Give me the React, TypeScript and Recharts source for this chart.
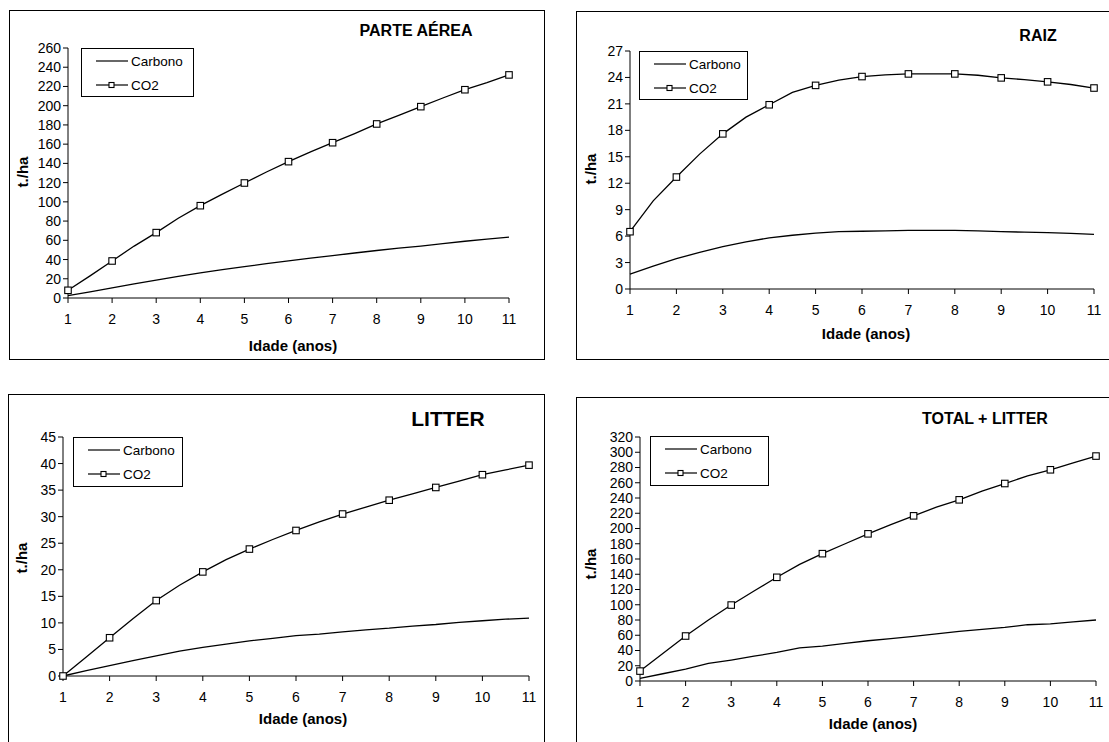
import React from "react";
import { LineChart, Line, XAxis, YAxis } from "recharts";

const ages = [1, 1.5, 2, 2.5, 3, 3.5, 4, 4.5, 5, 5.5, 6, 6.5, 7, 7.5, 8, 8.5, 9, 9.5, 10, 10.5, 11];
const yearTicks = [1, 2, 3, 4, 5, 6, 7, 8, 9, 10, 11];

const aereaCO2 = [8, 23, 38.5, 54, 68, 83, 96, 108, 119.6, 131, 141.8, 152, 161.5, 171, 181, 190, 199, 208, 216.6, 224, 232];
const aereaCarbono = [2.5, 6.3, 10.5, 14.6, 18.5, 22.6, 26.2, 29.5, 32.6, 35.8, 38.7, 41.4, 44, 46.8, 49.4, 51.8, 54, 56.5, 59, 61.2, 63.3];
const aereaTicks = [0, 20, 40, 60, 80, 100, 120, 140, 160, 180, 200, 220, 240, 260];

const raizCO2 = [6.5, 10.0, 12.7, 15.3, 17.6, 19.5, 20.9, 22.3, 23.1, 23.7, 24.1, 24.3, 24.4, 24.4, 24.4, 24.25, 23.95, 23.75, 23.5, 23.2, 22.8];
const raizCarbono = [1.7, 2.6, 3.45, 4.15, 4.8, 5.35, 5.8, 6.1, 6.35, 6.5, 6.55, 6.6, 6.65, 6.65, 6.65, 6.6, 6.5, 6.45, 6.4, 6.3, 6.2];
const raizTicks = [0, 3, 6, 9, 12, 15, 18, 21, 24, 27];

const litterCO2 = [0, 3.6, 7.2, 10.8, 14.2, 17.1, 19.6, 21.9, 23.9, 25.7, 27.4, 29.0, 30.5, 31.8, 33.1, 34.3, 35.5, 36.7, 37.9, 38.8, 39.7];
const litterCarbono = [0, 1.0, 1.95, 2.9, 3.8, 4.7, 5.4, 6.0, 6.6, 7.1, 7.6, 7.9, 8.3, 8.7, 9.0, 9.4, 9.7, 10.1, 10.4, 10.7, 10.9];
const litterTicks = [0, 5, 10, 15, 20, 25, 30, 35, 40, 45];

const totalCO2 = [13, 36, 59, 80, 99.6, 118, 136, 153, 167, 180, 193, 205, 216.6, 228, 237.6, 249, 259, 269, 277, 286, 295];
const totalCarbono = [3.5, 9.5, 15.7, 23, 27.5, 32.5, 37.5, 43.5, 45.8, 49.3, 52.8, 55.6, 58.5, 61.8, 65, 67.7, 70.3, 73.8, 75, 77.5, 80];
const totalTicks = [0, 20, 40, 60, 80, 100, 120, 140, 160, 180, 200, 220, 240, 260, 280, 300, 320];

const FONT = '"Liberation Sans", Arial, sans-serif';
const Y_AXIS_W = 40;
const X_AXIS_H = 34;

const toRows = (co2: number[], carbono: number[]) =>
  ages.map((age, i) => ({ age, co2: co2[i], carbono: carbono[i] }));

const panels = [
  {
    title: "PARTE AÉREA", titleSize: 16, titlePos: [416, 31],
    rows: toRows(aereaCO2, aereaCarbono), ticks: aereaTicks,
    frame: { x: 9, y: 10, w: 536, h: 350 },
    plot: { l: 68, t: 48, r: 509, b: 298 },
    legend: { x: 81, y: 48, w: 113, h: 49 },
    yLabel: [22, 172], xLabel: [293, 345],
  },
  {
    title: "RAIZ", titleSize: 16, titlePos: [1038, 36],
    rows: toRows(raizCO2, raizCarbono), ticks: raizTicks,
    frame: { x: 576, y: 11, w: 560, h: 349 },
    plot: { l: 630, t: 51, r: 1094, b: 289 },
    legend: { x: 639, y: 51, w: 109, h: 49 },
    yLabel: [590, 169], xLabel: [866, 333],
  },
  {
    title: "LITTER", titleSize: 21, titlePos: [448, 419],
    rows: toRows(litterCO2, litterCarbono), ticks: litterTicks,
    frame: { x: 8, y: 394, w: 537, h: 400 },
    plot: { l: 63, t: 437, r: 529, b: 676 },
    legend: { x: 73, y: 437, w: 110, h: 50 },
    yLabel: [21, 558], xLabel: [303, 718],
  },
  {
    title: "TOTAL + LITTER", titleSize: 16, titlePos: [985, 419],
    rows: toRows(totalCO2, totalCarbono), ticks: totalTicks,
    frame: { x: 576, y: 397, w: 560, h: 400 },
    plot: { l: 640, t: 437, r: 1096, b: 681 },
    legend: { x: 650, y: 436, w: 119, h: 50 },
    yLabel: [590, 564], xLabel: [873, 723],
  },
];

// square markers only on whole years
const renderSquare = (props: any) => {
  const { cx, cy, payload, index } = props;
  if (!Number.isInteger(payload.age)) return <g key={`d-${index}`} />;
  return (
    <rect key={`d-${index}`} x={cx - 3.25} y={cy - 3.25} width={6.5} height={6.5}
      fill="#fff" stroke="#000" strokeWidth={1.1} />
  );
};

const centered = (x: number, y: number, extra: React.CSSProperties = {}) => ({
  position: "absolute" as const, left: x, top: y,
  transform: "translate(-50%, -50%)", whiteSpace: "nowrap" as const,
  fontFamily: FONT, color: "#000", ...extra,
});

const LegendBox = ({ box }: { box: { x: number; y: number; w: number; h: number } }) => (
  <div style={{
    position: "absolute", left: box.x, top: box.y, width: box.w, height: box.h,
    border: "1px solid #000", background: "#fff", boxSizing: "border-box",
    fontFamily: FONT, fontSize: 13.5,
  }}>
    {["Carbono", "CO2"].map((name, i) => (
      <div key={name} style={{ position: "absolute", left: 14, top: 4 + i * 24, height: 16, display: "flex", alignItems: "center" }}>
        <svg width={32} height={10}>
          <line x1={0} y1={5} x2={32} y2={5} stroke="#000" strokeWidth={1.2} />
          {i === 1 && <rect x={13} y={2.5} width={5} height={5} fill="#fff" stroke="#000" strokeWidth={1.1} />}
        </svg>
        <span style={{ marginLeft: 3 }}>{name}</span>
      </div>
    ))}
  </div>
);

const Panel = ({ p }: { p: (typeof panels)[number] }) => {
  const { frame, plot } = p;
  const margin = {
    top: plot.t - frame.y,
    right: frame.x + frame.w - plot.r,
    bottom: frame.y + frame.h - plot.b - X_AXIS_H,
    left: plot.l - frame.x - Y_AXIS_W,
  };
  const tickStyle = { fontSize: 14, fill: "#000", fontFamily: FONT };
  return (
    <>
      <div style={{
        position: "absolute", left: frame.x, top: frame.y, width: frame.w, height: frame.h,
        border: "1.5px solid #000", boxSizing: "border-box", background: "#fff",
      }} />
      <div style={{ position: "absolute", left: frame.x, top: frame.y }}>
        <LineChart width={frame.w} height={frame.h} data={p.rows} margin={margin}>
          <XAxis dataKey="age" type="number" domain={[1, 11]} ticks={yearTicks} interval={0}
            height={X_AXIS_H} tick={tickStyle} tickSize={5} tickMargin={11}
            axisLine={{ stroke: "#000" }} tickLine={{ stroke: "#000" }} />
          <YAxis type="number" domain={[p.ticks[0], p.ticks[p.ticks.length - 1]]} ticks={p.ticks}
            interval={0} width={Y_AXIS_W} tick={tickStyle} tickSize={5} tickMargin={2}
            axisLine={{ stroke: "#000" }} tickLine={{ stroke: "#000" }} />
          <Line type="linear" dataKey="carbono" name="Carbono" stroke="#000" strokeWidth={1.3}
            dot={false} isAnimationActive={false} />
          <Line type="linear" dataKey="co2" name="CO2" stroke="#000" strokeWidth={1.3}
            dot={renderSquare} isAnimationActive={false} />
        </LineChart>
      </div>
      <LegendBox box={p.legend} />
      <div style={centered(p.titlePos[0], p.titlePos[1], { fontSize: p.titleSize, fontWeight: "bold" })}>{p.title}</div>
      <div style={centered(p.xLabel[0], p.xLabel[1], { fontSize: 15, fontWeight: "bold" })}>Idade (anos)</div>
      <div style={centered(p.yLabel[0], p.yLabel[1], {
        fontSize: 15, fontWeight: "bold", transform: "translate(-50%, -50%) rotate(-90deg)",
      })}>t./ha</div>
    </>
  );
};

export default function App() {
  return (
    <div style={{
      position: "absolute", left: 0, top: 0, width: 1109, height: 742,
      overflow: "hidden", background: "#fff",
    }}>
      {panels.map((p) => <Panel key={p.title} p={p} />)}
    </div>
  );
}
